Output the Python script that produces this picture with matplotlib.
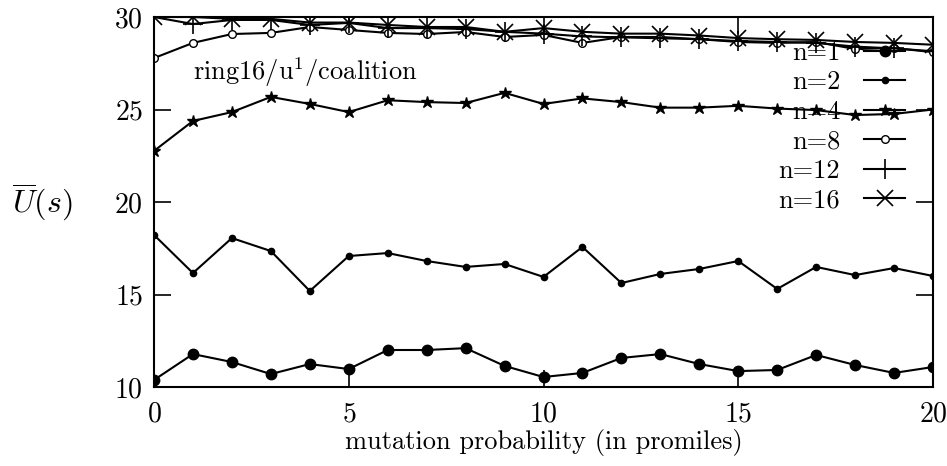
import matplotlib
matplotlib.use("Agg")
import matplotlib.pyplot as plt
import numpy as np

plt.rcParams['font.family'] = 'serif'
plt.rcParams['font.serif'] = ['cmr10']
plt.rcParams['mathtext.fontset'] = 'cm'
plt.rcParams['axes.formatter.use_mathtext'] = True

# mutation probability (promiles)
x = np.arange(0, 21)

# average utility per group size n
u_n1 = [10.38, 11.78, 11.35, 10.70, 11.24, 10.97, 12.00, 12.00, 12.10, 11.14, 10.54,
        10.76, 11.57, 11.78, 11.24, 10.86, 10.92, 11.73, 11.19, 10.76, 11.08]
u_n2 = [18.22, 16.16, 18.05, 17.35, 15.19, 17.08, 17.24, 16.81, 16.49, 16.65, 15.95,
        17.57, 15.62, 16.11, 16.38, 16.81, 15.30, 16.49, 16.05, 16.43, 16.00]
u_n4 = [22.76, 24.38, 24.86, 25.68, 25.30, 24.86, 25.50, 25.40, 25.35, 25.90, 25.30,
        25.60, 25.40, 25.10, 25.10, 25.20, 25.05, 24.97, 24.70, 24.76, 25.00]
u_n8 = [27.78, 28.60, 29.08, 29.14, 29.46, 29.30, 29.14, 29.08, 29.19, 28.92, 29.03,
        28.60, 28.92, 28.92, 28.80, 28.65, 28.60, 28.65, 28.27, 28.32, 28.10]
u_n12 = [30.00, 29.62, 29.84, 29.84, 29.57, 29.68, 29.40, 29.40, 29.35, 29.20, 29.10,
         28.95, 28.90, 28.85, 28.80, 28.70, 28.65, 28.60, 28.40, 28.30, 28.15]
u_n16 = [30.00, 30.00, 29.90, 29.90, 29.70, 29.70, 29.57, 29.46, 29.46, 29.20, 29.40,
         29.20, 29.10, 29.10, 29.00, 28.86, 28.80, 28.76, 28.65, 28.60, 28.50]

fig = plt.figure(figsize=(9.47, 4.66), dpi=100)
ax = fig.add_axes([154 / 947, 1 - 387 / 466, 779 / 947, 370 / 466])

lw = 1.5
ax.plot(x, u_n1, color='black', lw=lw, marker='o', markersize=7.5, label='n=1')
ax.plot(x, u_n2, color='black', lw=lw, marker='o', markersize=4.5, label='n=2')
ax.plot(x, u_n4, color='black', lw=lw, marker='*', markersize=9, label='n=4')
ax.plot(x, u_n8, color='black', lw=lw, marker='o', markersize=5.5,
        markerfacecolor='white', markeredgewidth=1, label='n=8')
ax.plot(x, u_n12, color='black', lw=lw, marker='+', markersize=15,
        markeredgewidth=1.2, label='n=12')
ax.plot(x, u_n16, color='black', lw=lw, marker='x', markersize=12,
        markeredgewidth=1.2, label='n=16')

ax.set_xlim(0, 20)
ax.set_ylim(10, 30)
ax.set_xticks([0, 5, 10, 15, 20])
ax.set_yticks([10, 15, 20, 25, 30])
ax.tick_params(direction='in', top=True, right=True, length=12, width=1.2,
               labelsize=20, pad=8)
ax.tick_params(axis='x', pad=10)
for s in ax.spines.values():
    s.set_linewidth(1.5)

ax.set_xlabel('mutation probability (in promiles)', fontsize=19, labelpad=1)
ax.set_ylabel(r'$\overline{U}(s)$', fontsize=23, rotation=0, va='center', ha='center')
ax.yaxis.set_label_coords(-0.144, 0.5)

ax.text(1.0, 27.03, r'ring16/u$^1$/coalition', fontsize=19, va='center', ha='left')

ax.legend(loc='upper right', bbox_to_anchor=(0.964, 0.935), frameon=False,
          markerfirst=False, fontsize=19, borderpad=0, borderaxespad=0,
          handlelength=1.55, handletextpad=0.9, labelspacing=0.22)

fig.savefig('out.png', dpi=100)
